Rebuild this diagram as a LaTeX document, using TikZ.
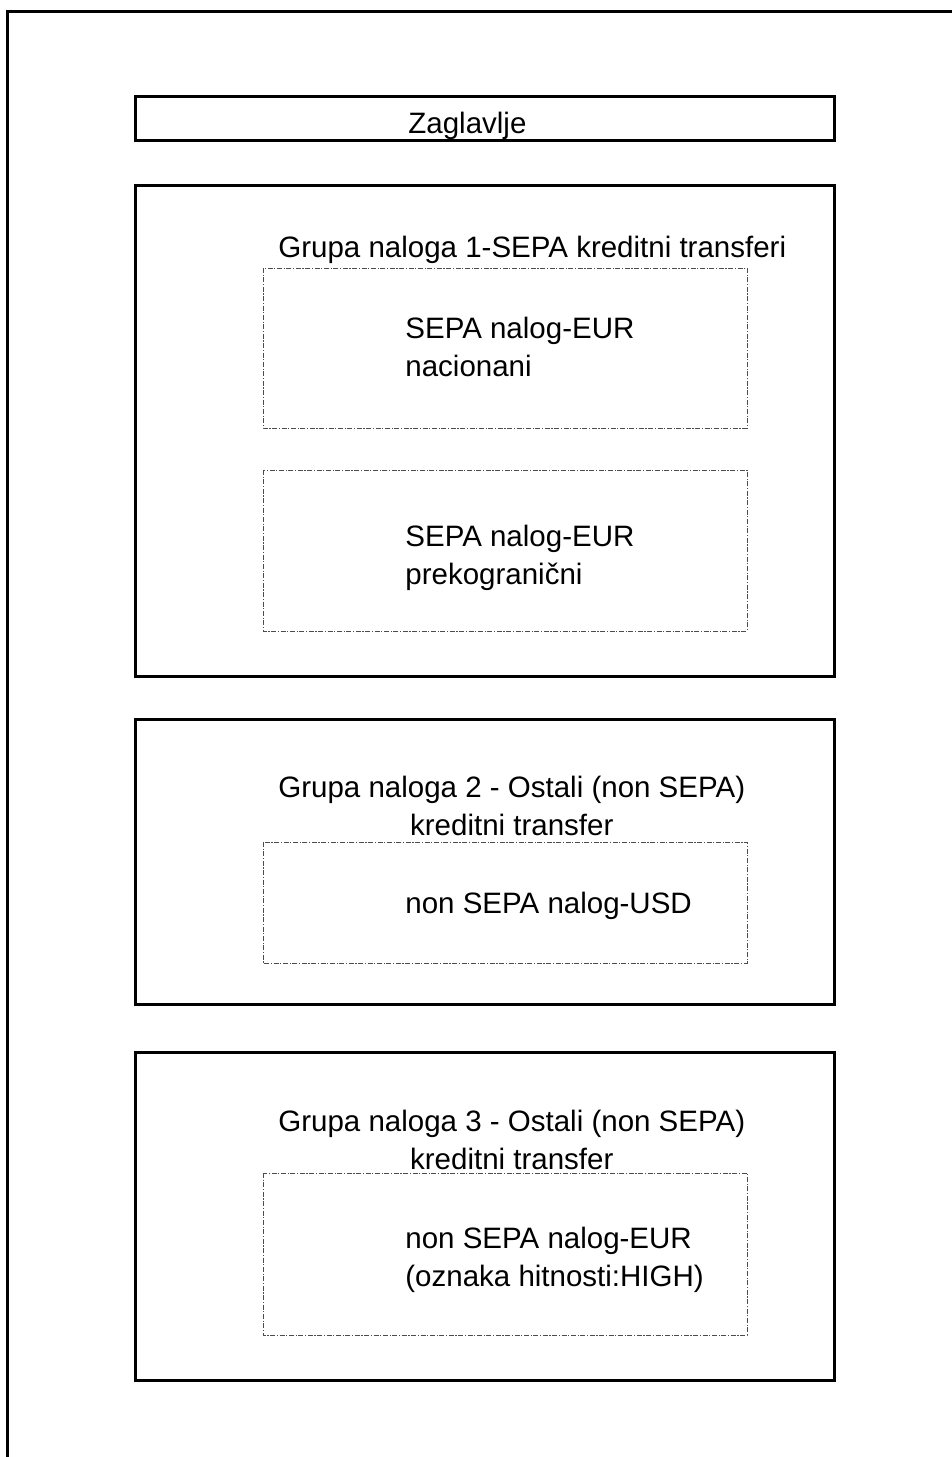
\documentclass[tikz,border=0pt]{standalone}
\usepackage{fontspec}
\setmainfont{Liberation Sans}
\usepackage{xcolor}
\usepackage{tikz}

\tikzset{
  frame/.style={black, line width=1.5pt},
  grpbox/.style={black, line width=1.5pt},
  subbox/.style={black!70, line width=0.5pt, dash pattern=on 2.5pt off 0.8pt on 0.6pt off 0.8pt},
  txt/.style={anchor=base west, inner sep=0pt, font=\fontsize{14.75}{19}\selectfont}
}

\begin{document}
\begin{tikzpicture}[x=0.5pt,y=-0.5pt]
  \useasboundingbox (0,0) rectangle (952,1457);

  % Page border (top and left only)
  \draw[frame] (6,11) -- (952,11);
  \draw[frame] (7,10) -- (7,1457);

  % Header
  \draw[grpbox] (135,96) rectangle (834,140);
  \node[txt] (hdr) at (408,133) {Zaglavlje};

  % Group 1 (multi-line nodes sit on their last baseline)
  \draw[grpbox] (135,185) rectangle (834,676);
  \node[txt] (g1) at (278,257) {Grupa naloga 1-SEPA kreditni transferi};
  \draw[subbox] (263,268) rectangle (747,428);
  \node[txt, align=left] (g1a) at (405,376) {SEPA nalog-EUR\\nacionani};
  \draw[subbox] (263,470) rectangle (747,631);
  \node[txt, align=left] (g1b) at (405,584) {SEPA nalog-EUR\\prekogranični};

  % Group 2
  \draw[grpbox] (135,719) rectangle (834,1004);
  \node[txt, align=center] (g2) at (278,835) {Grupa naloga 2 - Ostali (non SEPA)\\kreditni transfer};
  \draw[subbox] (263,842) rectangle (747,963);
  \node[txt] (g2a) at (405,913) {non SEPA nalog-USD};

  % Group 3
  \draw[grpbox] (135,1052) rectangle (834,1380);
  \node[txt, align=center] (g3) at (278,1169) {Grupa naloga 3 - Ostali (non SEPA)\\kreditni transfer};
  \draw[subbox] (263,1173) rectangle (747,1335);
  \node[txt, align=left] (g3a) at (405,1286) {non SEPA nalog-EUR\\(oznaka hitnosti:HIGH)};
\end{tikzpicture}
\end{document}
